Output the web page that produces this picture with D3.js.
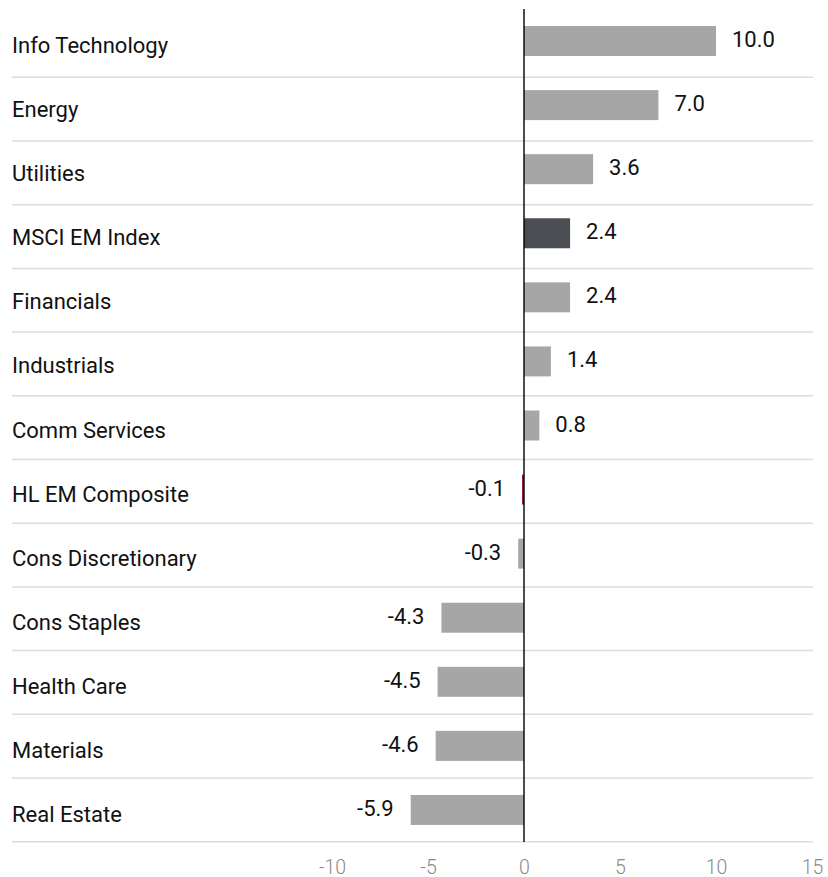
<!DOCTYPE html>
<html>
<head>
<meta charset="utf-8">
<script src="https://cdn.jsdelivr.net/npm/d3@7"></script>
<style>
  html, body { margin: 0; padding: 0; background: #fff; }
  svg { display: block; }
  text { font-family: Roboto, "Noto Sans", sans-serif; }
</style>
</head>
<body>
<div id="chart"></div>
<script>
const categories = ["Info Technology", "Energy", "Utilities", "MSCI EM Index", "Financials",
  "Industrials", "Comm Services", "HL EM Composite", "Cons Discretionary", "Cons Staples",
  "Health Care", "Materials", "Real Estate"];
const values = [10.0, 7.0, 3.6, 2.4, 2.4, 1.4, 0.8, -0.1, -0.3, -4.3, -4.5, -4.6, -5.9];
const valueLabels = ["10.0", "7.0", "3.6", "2.4", "2.4", "1.4", "0.8", "-0.1", "-0.3", "-4.3", "-4.5", "-4.6", "-5.9"];
const tickValues = [-10, -5, 0, 5, 10, 15];
const tickLabels = ["-10", "-5", "0", "5", "10", "15"];
const highlight = { "MSCI EM Index": "#4a4d52", "HL EM Composite": "#8c0a2e" };
const baseColor = "#a6a6a6";

const W = 828, H = 877;
const svg = d3.select("#chart").append("svg").attr("width", W).attr("height", H);

const x = d3.scaleLinear().domain([-10, 15]).range([332, 812]);
const y = d3.scaleBand().domain(categories).range([9, 842]).paddingInner(0.532).paddingOuter(0.266);
const ySep = d3.scaleBand().domain(categories).range([13.6, 841.7]);

// separators
svg.append("g").selectAll("line").data(categories).join("line")
  .attr("x1", 12).attr("x2", 813)
  .attr("y1", d => ySep(d) + ySep.bandwidth())
  .attr("y2", d => ySep(d) + ySep.bandwidth())
  .attr("stroke", "#dcdcdc").attr("stroke-width", 1.5);

// bars
svg.append("g").selectAll("rect").data(categories).join("rect")
  .attr("x", (d, i) => x(Math.min(0, values[i])))
  .attr("width", (d, i) => Math.abs(x(values[i]) - x(0)))
  .attr("y", d => y(d))
  .attr("height", y.bandwidth())
  .attr("fill", d => highlight[d] || baseColor);

// zero line
svg.append("line")
  .attr("x1", x(0)).attr("x2", x(0))
  .attr("y1", 9).attr("y2", 842)
  .attr("stroke", "#000").attr("stroke-width", 1.4);

// category labels
svg.append("g").selectAll("text").data(categories).join("text")
  .attr("x", 12)
  .attr("y", d => y(d) + y.bandwidth() / 2 + 4.5)
  .attr("dominant-baseline", "central")
  .attr("font-size", 22)
  .attr("fill", "#111")
  .text(d => d);

// value labels
svg.append("g").selectAll("text").data(categories).join("text")
  .attr("x", (d, i) => values[i] >= 0 ? x(values[i]) + 16 : x(values[i]) - 17)
  .attr("text-anchor", (d, i) => values[i] >= 0 ? "start" : "end")
  .attr("y", d => y(d) + y.bandwidth() / 2 - 1.5)
  .attr("dominant-baseline", "central")
  .attr("font-size", 22)
  .attr("fill", "#111")
  .text((d, i) => valueLabels[i]);

// x axis
const axis = d3.axisBottom(x).tickValues(tickValues).tickFormat((d, i) => tickLabels[i]).tickSize(0).tickPadding(0);
const gAxis = svg.append("g").attr("transform", "translate(0,867)").call(axis);
gAxis.select(".domain").remove();
gAxis.selectAll("text")
  .attr("y", 0).attr("dy", null)
  .attr("dominant-baseline", "central")
  .attr("font-size", 19.5)
  .attr("font-family", "Roboto, sans-serif")
  .attr("font-weight", 300)
  .attr("fill", "#8a8a8a");
</script>
</body>
</html>
